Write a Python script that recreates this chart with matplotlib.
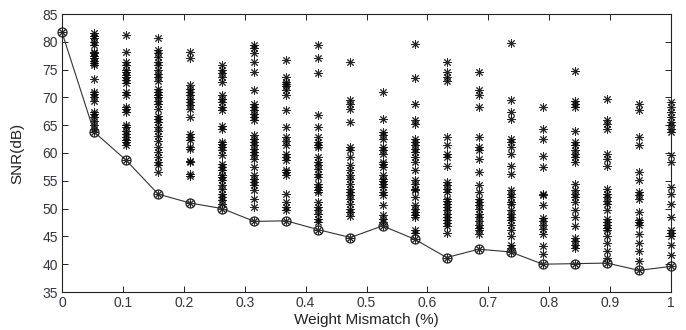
import numpy as np
import matplotlib
matplotlib.use("Agg")
import matplotlib.pyplot as plt

plt.rcParams['font.family'] = ['Liberation Sans', 'DejaVu Sans']

# x positions (weight mismatch %)
mismatch = [round(i / 19, 4) for i in range(20)]

# SNR samples per mismatch level (dB)
snr_samples = [
    [81.7],
    [81.5, 81.0, 80.6, 80.0, 79.5, 78.2, 77.9, 77.4, 77.0, 76.6, 76.1, 75.8, 73.3, 71.0, 70.6, 70.0,
     69.4, 67.4, 67.0, 66.5, 65.8, 65.0, 64.4, 63.8],
    [81.2, 78.2, 76.4, 75.8, 75.0, 74.6, 74.1, 73.7, 73.1, 72.6, 71.0, 70.4, 68.3, 67.9, 67.4, 65.0,
     64.6, 64.0, 63.4, 62.9, 62.3, 61.9, 61.4, 58.7],
    [80.6, 78.5, 78.0, 77.3, 76.4, 75.8, 74.9, 74.2, 73.7, 73.0, 71.6, 71.0, 70.4, 70.0, 69.4, 68.8,
     68.0, 66.7, 66.2, 65.6, 64.7, 64.0, 63.1, 62.2, 61.0, 60.1, 59.3, 58.4, 57.8, 56.5, 52.6],
    [78.2, 77.0, 72.2, 71.6, 71.0, 70.4, 69.7, 69.2, 68.6, 68.0, 66.5, 63.5, 62.9, 62.3, 61.1, 60.7,
     58.6, 58.3, 56.2, 55.9, 51.0],
    [75.8, 75.0, 74.3, 73.7, 72.8, 70.4, 69.8, 69.2, 68.3, 67.7, 64.9, 64.4, 62.0, 61.6, 61.1, 60.5,
     59.6, 58.1, 57.5, 56.9, 56.0, 55.7, 55.1, 54.2, 53.6, 52.7, 52.1, 51.5, 50.9, 50.0],
    [79.4, 78.8, 77.9, 76.4, 74.6, 71.3, 68.9, 68.3, 67.7, 67.1, 66.5, 65.9, 63.2, 62.6, 62.0, 61.4,
     60.8, 60.2, 59.6, 59.0, 57.5, 56.0, 55.4, 54.8, 54.2, 53.3, 51.8, 50.2, 47.7],
    [76.7, 73.7, 72.8, 72.5, 72.1, 71.3, 70.4, 67.7, 64.7, 62.9, 62.2, 61.4, 59.9, 59.3, 58.7, 56.9,
     56.5, 56.0, 52.7, 51.1, 50.3, 49.7, 47.8],
    [79.4, 77.0, 74.3, 66.8, 64.7, 62.9, 62.0, 61.4, 61.1, 59.3, 58.4, 57.8, 57.2, 56.3, 55.7, 54.5,
     53.9, 53.3, 52.9, 51.1, 50.3, 49.7, 49.0, 48.2, 47.6, 46.2],
    [76.4, 69.5, 68.9, 68.0, 65.5, 61.0, 60.5, 59.3, 57.8, 56.9, 56.0, 55.4, 54.5, 53.6, 53.0, 52.4,
     51.8, 50.9, 50.0, 49.4, 48.7, 44.8],
    [71.0, 66.1, 63.8, 63.2, 62.6, 61.1, 60.5, 59.8, 58.4, 58.0, 57.5, 56.0, 55.4, 55.0, 54.5, 53.9,
     53.0, 52.4, 50.6, 48.8, 48.2, 47.6, 46.9],
    [79.6, 73.4, 68.9, 65.9, 65.3, 62.6, 62.0, 61.4, 60.8, 60.2, 59.3, 58.4, 56.9, 55.1, 54.5, 53.6,
     53.3, 52.1, 50.6, 50.0, 49.4, 48.8, 48.5, 46.2, 45.6, 44.5],
    [76.4, 74.6, 73.7, 73.0, 62.9, 61.4, 59.8, 59.3, 57.7, 54.8, 54.2, 53.6, 53.0, 51.8, 51.4, 50.9,
     50.3, 49.7, 49.1, 48.5, 47.9, 47.4, 46.8, 45.6, 41.2],
    [74.6, 71.3, 70.4, 68.3, 62.9, 61.0, 60.5, 59.0, 56.5, 54.2, 53.0, 51.8, 51.2, 50.6, 50.0, 49.1,
     48.5, 47.8, 47.0, 46.5, 46.2, 45.4, 42.7],
    [79.7, 69.5, 67.4, 66.2, 62.6, 62.0, 61.1, 59.8, 57.7, 56.2, 53.3, 52.7, 52.1, 51.2, 50.8, 49.7,
     49.1, 48.4, 47.9, 47.0, 46.2, 45.0, 43.5, 42.9, 42.2],
    [68.3, 64.4, 62.6, 59.5, 57.5, 52.7, 52.4, 50.6, 48.3, 47.8, 47.0, 46.4, 45.4, 43.2, 41.8, 40.0],
    [74.8, 69.4, 68.8, 68.2, 64.0, 61.9, 61.4, 60.5, 59.9, 59.2, 58.4, 54.5, 53.3, 52.7, 52.1, 51.2,
     49.7, 48.5, 46.8, 44.7, 44.2, 43.5, 42.9, 40.1],
    [69.8, 65.9, 65.3, 64.4, 59.9, 59.0, 57.7, 53.6, 52.7, 52.1, 51.4, 50.8, 49.7, 48.2, 47.6, 47.0,
     46.6, 46.2, 45.1, 43.8, 42.3, 41.1, 40.2],
    [68.8, 67.7, 62.9, 61.4, 56.6, 55.1, 53.0, 52.4, 51.8, 49.4, 47.9, 47.6, 47.0, 45.5, 43.8, 42.3,
     40.6, 38.9],
    [69.1, 68.3, 67.4, 66.5, 65.6, 65.0, 64.3, 63.7, 59.6, 58.4, 53.9, 52.6, 50.9, 48.4, 46.2, 45.7,
     45.0, 43.5, 41.7, 39.6],
]

# minimum SNR per mismatch level
min_snr = [81.7, 63.8, 58.7, 52.6, 51.0, 50.0, 47.7, 47.8, 46.2, 44.8, 46.9, 44.5, 41.2, 42.7,
           42.2, 40.0, 40.1, 40.2, 38.9, 39.6]

xticks = [0, 0.1, 0.2, 0.3, 0.4, 0.5, 0.6, 0.7, 0.8, 0.9, 1]
xtick_labels = ['0', '0.1', '0.2', '0.3', '0.4', '0.5', '0.6', '0.7', '0.8', '0.9', '1']
yticks = [35, 40, 45, 50, 55, 60, 65, 70, 75, 80, 85]

fig = plt.figure(figsize=(6.86, 3.30), dpi=100)
ax = fig.add_axes([62 / 686, 38 / 330, (671 - 62) / 686, (292 - 14) / 330])

star = (8, 2, 0)
xs = []
ys = []
for xv, col in zip(mismatch, snr_samples):
    xs.extend([xv] * len(col))
    ys.extend(col)
ax.plot(xs, ys, linestyle='none', marker=star, markersize=6, markeredgewidth=0.7,
        color='black', alpha=0.85, clip_on=False)

ax.plot(mismatch, min_snr, color='#333333', linewidth=0.8, marker='o', markersize=6.5,
        markerfacecolor='none', markeredgecolor='#222222', markeredgewidth=0.9, clip_on=False)

ax.set_xlim(0, 1)
ax.set_ylim(35, 85)
ax.set_xticks(xticks)
ax.set_xticklabels(xtick_labels)
ax.set_yticks(yticks)
ax.tick_params(direction='in', length=4, width=0.7, top=True, right=True,
               labelsize=10, pad=3)
ax.tick_params(axis='both', colors='#222222', labelcolor='#333344')
for s in ax.spines.values():
    s.set_linewidth(0.8)
    s.set_color('#222222')

ax.set_xlabel('Weight Mismatch (%)', fontsize=11, color='#222222', labelpad=2)
ax.set_ylabel('SNR(dB)', fontsize=11, color='#222222', labelpad=13)

fig.savefig('out.png', dpi=100, facecolor='white')
